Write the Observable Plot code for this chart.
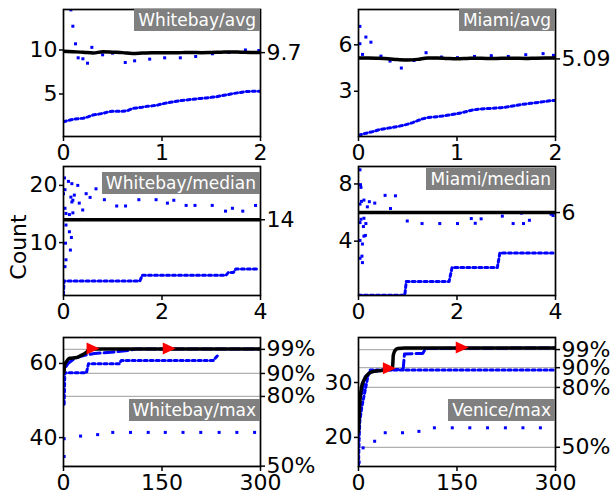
<!DOCTYPE html>
<html>
<head>
<meta charset="utf-8">
<script src="https://cdn.jsdelivr.net/npm/d3@7"></script>
<script src="https://cdn.jsdelivr.net/npm/@observablehq/plot@0.6"></script>
<style>
  html, body { margin: 0; padding: 0; background: #fff; }
  #chart { position: relative; width: 613px; height: 492px; overflow: hidden; font-family: "DejaVu Sans", sans-serif; background: #fff; }
  #chart svg { position: absolute; overflow: visible; }
  .tag { position: absolute; background: #808080; color: #fff; font-size: 17px; line-height: 22px; padding: 0 4px; white-space: nowrap; font-family: "DejaVu Sans", sans-serif; }
  .ylab { position: absolute; font-size: 22px; white-space: nowrap; transform: translate(-50%, -50%) rotate(-90deg); font-family: "DejaVu Sans", sans-serif; }
</style>
</head>
<body>
<div id="chart"></div>
<script>
// ---------- data ----------
const x41 = [0,0.05,0.1,0.15,0.2,0.25,0.3,0.35,0.4,0.45,0.5,0.55,0.6,0.65,0.7,0.75,0.8,0.85,0.9,0.95,1,1.05,1.1,1.15,1.2,1.25,1.3,1.35,1.4,1.45,1.5,1.55,1.6,1.65,1.7,1.75,1.8,1.85,1.9,1.95,2];
const x21 = [0,0.1,0.2,0.3,0.4,0.5,0.6,0.7,0.8,0.9,1,1.1,1.2,1.3,1.4,1.5,1.6,1.7,1.8,1.9,2];

// Whitebay/avg
const wbAvgLow = [1.85,2.0,2.12,2.2,2.25,2.4,2.62,2.7,2.8,2.95,3.05,3.05,3.05,3.1,3.35,3.42,3.5,3.6,3.65,3.72,3.88,3.98,4.08,4.18,4.27,4.32,4.38,4.45,4.5,4.55,4.62,4.68,4.8,4.9,5.0,5.1,5.18,5.28,5.3,5.32,5.32];
const wbAvgMean = [9.85,9.8,9.75,9.65,9.8,9.75,9.7,9.6,9.65,9.7,9.7,9.68,9.7,9.72,9.7,9.72,9.75,9.78,9.75,9.72,9.72];
const wbAvgPtX = [0.075,0.095,0.122,0.149,0.197,0.244,0.288,0.397,0.498,0.627,0.722,0.875,1.027,1.186,1.342,1.512,1.678,1.847,1.983];
const wbAvgPtY = [14.56,12.7,10.7,9.11,9.0,8.5,10.3,9.45,9.64,8.58,8.77,8.96,9.11,9.11,9.26,9.57,9.72,10.0,9.94];
const wbAvgFinal = 9.7;

// Miami/avg
const miAvgLow = [0.15,0.25,0.33,0.4,0.5,0.57,0.62,0.67,0.73,0.79,0.88,0.98,1.1,1.22,1.3,1.33,1.36,1.4,1.45,1.5,1.55,1.62,1.7,1.78,1.83,1.86,1.88,1.9,1.92,1.94,1.98,2.03,2.08,2.14,2.18,2.22,2.26,2.3,2.35,2.39,2.41];
const miAvgMean = [5.15,5.15,5.13,5.1,5.05,5.02,5.06,5.15,5.15,5.12,5.1,5.12,5.14,5.12,5.12,5.14,5.13,5.12,5.14,5.15,5.14];
const miAvgPtX = [0.014,0.014,0.041,0.075,0.126,0.228,0.32,0.435,0.564,0.686,0.842,1.005,1.178,1.348,1.521,1.698,1.874,1.979];
const miAvgPtY = [7.19,6.07,5.38,6.5,6.17,5.27,4.95,4.5,4.99,5.49,5.21,5.17,5.25,5.3,5.25,5.36,5.43,5.32];
const miAvgFinal = 5.09;

// Whitebay/median
const wbMedLowX = [0,0.01,1.55,1.6,3.3,3.35,3.45,3.5,3.93];
const wbMedLowY = [0.9,3.3,3.3,4.3,4.3,4.8,4.8,5.4,5.4];
const wbMedX = [0,4];
const wbMed = [14,14];
const wbMedPtX = [0.02,0.1,0.17,0.29,0.03,0.0,0.22,0.15,0.19,0.17,0.32,0.03,0.39,0.05,0.12,0.19,0.16,0.37,0.46,0.54,0.66,0.83,1.08,1.26,1.53,1.88,2.11,2.24,2.49,2.67,3.02,3.29,3.43,3.64,3.9,0.05,0.12,0.16,0.04,0.14,0.05,0.03];
const wbMedPtY = [21.3,20.7,20.3,20.0,19.25,18.55,18.3,17.95,17.4,17.1,16.9,16.0,15.7,15.1,14.9,15.2,14.05,14.05,18.55,17.9,19.4,17.5,16.4,16.4,17.5,17.5,16.9,17.4,16.5,16.5,16.5,15.5,16.0,15.5,16.5,13.07,11.9,10.9,9.9,8.7,7.0,5.8];
const wbMedFinal = 14;

// Miami/median
const miMedLowX = [0,0.94,0.97,1.84,1.9,2.82,2.87,3.95];
const miMedLowY = [0.22,0.22,1.18,1.18,2.16,2.16,3.18,3.18];
const miMedX = [0,4];
const miMed = [6,6];
const miMedPtX = [0.03,0.04,0.05,0.03,0.06,0.11,0.18,0.22,0.33,0.54,0.75,0.65,0.05,0.11,0.15,0.03,0.1,0.03,0.11,0.14,0.08,0.03,0.07,0.08,0.99,1.29,1.65,2.01,2.29,2.37,2.33,2.47,2.49,2.92,3.14,3.31,3.35,3.47,3.91,3.95];
const miMedPtY = [8.99,7.95,7.76,6.59,6.78,6.87,6.4,6.76,6.66,7.2,7.17,6.28,5.53,5.6,5.23,5.3,5.02,4.05,4.35,4.4,3.8,2.8,2.95,2.5,5.41,5.23,5.23,5.23,5.58,5.25,6.0,6.0,5.56,5.75,5.23,5.96,5.23,5.46,5.89,5.79];
const miMedFinal = 6;

// Whitebay/max
const wbMaxBlackX = [0,1,1.5,4.5,9,20,27,35,39,45,300];
const wbMaxBlackY = [57.5,58.1,59.5,60.5,61.4,61.6,62.2,63.0,63.8,63.9,63.9];
const wbMaxDashX = [4,7,17,32,47,72,98,110,300];
const wbMaxDashY = [59.2,60,61.4,62.2,62.7,63,63.5,63.9,63.9];
const wbMaxDotX = [1,1.5,2,35,38,85,88,228,236];
const wbMaxDotY = [49,53,57.5,57.5,59.9,59.9,60.8,60.8,62.4];
const wbMaxSparseX = [1,1,26,52,75,102,129,155,182,209,237,264,291];
const wbMaxSparseY = [34.9,39.7,40.4,40.8,41.4,41.4,41.4,41.4,41.4,41.4,41.4,41.4,41.4];
const wbMaxTriX = [45,161];
const wbMaxTriY = [64,64];
const wbPctVal = [63.8,57.3,51.1,32.3];
const pctLab = ["99%","90%","80%","50%"];

// Venice/max
const vnBlackX = [0,1,2.5,4.5,9.5,19.6,34.7,50,52,53,56,60,70,300];
const vnBlackY = [21,24,27,29.1,30.7,31.9,32.2,32.5,33,35,35.9,36.2,36.3,36.3];
const vnDashX = [5,10,20,40,68,70,98,102,300];
const vnDashY = [28,31,32.0,32.3,32.4,35.2,35.3,36.2,36.3];
const vnDotX = [0,1,2,5,9.5,14.6,18,300];
const vnDotY = [15,20,23,25.5,28.2,31.3,32.3,32.3];
const vnSparseX = [1,7,24.6,40.7,67,92,115.6,142.8,169.5,196.5,223.7,250.4,277];
const vnSparseY = [15.5,18.1,19.3,20.85,20.85,21.1,21.75,21.75,21.75,21.75,21.75,21.75,21.75];
const vnTriX = [47,158];
const vnTriY = [32.6,36.4];
const vnPctVal = [36.0,32.7,29.1,18.2];

// ---------- helpers ----------
const zip = (xs, ys) => xs.map((x, i) => ({x, y: ys[i]}));
const BLUE = "#0000ff";
const dotted = (xs, ys) => Plot.line(zip(xs, ys), {x: "x", y: "y", stroke: BLUE, strokeWidth: 3, strokeDasharray: "3,3", clip: true});
const dashed = (xs, ys) => Plot.line(zip(xs, ys), {x: "x", y: "y", stroke: BLUE, strokeWidth: 3, strokeDasharray: "10,4", clip: true});
const blackLine = (xs, ys, curve) => Plot.line(zip(xs, ys), {x: "x", y: "y", stroke: "black", strokeWidth: 3.5, curve: curve || "linear", clip: true});
const pts = (xs, ys) => Plot.dot(zip(xs, ys), {x: "x", y: "y", symbol: "square", r: 1.7, fill: BLUE, clip: true});
const rightTri = { draw(ctx) { ctx.moveTo(-6.5, -6); ctx.lineTo(6.5, 0); ctx.lineTo(-6.5, 6); ctx.closePath(); } };
const tris = (xs, ys) => Plot.dot(zip(xs, ys), {x: "x", y: "y", symbol: rightTri, fill: "red", r: 5});

const chart = document.getElementById("chart");
const ML = 70, MR = 80, MT = 14, MB = 36;

function panel(c) {
  const rmap = new Map(c.rt.map((v, i) => [v, c.rl[i]]));
  const svg = Plot.plot({
    width: c.fw + ML + MR, height: c.fh + MT + MB,
    marginLeft: ML, marginRight: MR, marginTop: MT, marginBottom: MB,
    x: {domain: c.xd}, y: {domain: c.yd},
    style: {fontFamily: "DejaVu Sans", fontSize: "22px", color: "black", background: "transparent", overflow: "visible"},
    marks: [
      ...c.marks,
      Plot.frame({stroke: "black", strokeWidth: 1.7}),
      Plot.axisX({ticks: c.xt, tickSize: 5, tickPadding: 3, fontSize: 22, label: null, tickFormat: d => String(d), strokeWidth: 1.5}),
      Plot.axisY({ticks: c.yt, tickSize: 4, tickPadding: 2, fontSize: 22, label: null, tickFormat: d => String(d), strokeWidth: 1.5}),
      Plot.axisY({anchor: "right", ticks: c.rt, tickSize: 4, tickPadding: 2, fontSize: 22, label: null, tickFormat: d => rmap.get(d), strokeWidth: 1.5})
    ]
  });
  svg.style.left = (c.left - ML) + "px";
  svg.style.top = (c.top - MT) + "px";
  chart.appendChild(svg);
  const tag = document.createElement("div");
  tag.className = "tag";
  tag.textContent = c.title;
  tag.style.top = c.tagTop + "px";
  tag.style.right = (613 - c.left - c.fw) + "px";
  chart.appendChild(tag);
}

const L1 = 63, L2 = 358, FW = 197;
const T1 = 9, T2 = 166, T3 = 337;

panel({
  left: L1, top: T1, fw: FW, fh: 127, xd: [0, 2], yd: [0.17, 14.6], xt: [0, 1, 2], yt: [5, 10],
  rt: [wbAvgFinal], rl: ["9.7"], title: "Whitebay/avg", tagTop: 9,
  marks: [
    Plot.ruleY([wbAvgFinal], {stroke: "#b0b0b0", strokeWidth: 1.2}),
    dotted(x41, wbAvgLow),
    pts(wbAvgPtX, wbAvgPtY),
    blackLine(x21, wbAvgMean, "monotone-x")
  ]
});
panel({
  left: L2, top: T1, fw: FW, fh: 127, xd: [0, 2], yd: [0.08, 8.28], xt: [0, 1, 2], yt: [3, 6],
  rt: [miAvgFinal], rl: ["5.09"], title: "Miami/avg", tagTop: 9,
  marks: [
    Plot.ruleY([miAvgFinal], {stroke: "#b0b0b0", strokeWidth: 1.2}),
    dotted(x41, miAvgLow),
    pts(miAvgPtX, miAvgPtY),
    blackLine(x21, miAvgMean, "monotone-x")
  ]
});
panel({
  left: L1, top: T2, fw: FW, fh: 129, xd: [0, 4], yd: [0.76, 23.3], xt: [0, 2, 4], yt: [10, 20],
  rt: [wbMedFinal], rl: ["14"], title: "Whitebay/median", tagTop: 172,
  marks: [
    dotted(wbMedLowX, wbMedLowY),
    pts(wbMedPtX, wbMedPtY),
    blackLine(wbMedX, wbMed)
  ]
});
panel({
  left: L2, top: T2, fw: FW, fh: 129, xd: [0, 4], yd: [0.2, 9.22], xt: [0, 2, 4], yt: [4, 8],
  rt: [miMedFinal], rl: ["6"], title: "Miami/median", tagTop: 168,
  marks: [
    dotted(miMedLowX, miMedLowY),
    pts(miMedPtX, miMedPtY),
    blackLine(miMedX, miMed)
  ]
});
panel({
  left: L1, top: T3, fw: FW, fh: 129, xd: [0, 300], yd: [32.2, 67], xt: [0, 150, 300], yt: [40, 60],
  rt: wbPctVal, rl: pctLab, title: "Whitebay/max", tagTop: 399,
  marks: [
    Plot.ruleY(wbPctVal, {stroke: "#b0b0b0", strokeWidth: 1.2}),
    pts(wbMaxSparseX, wbMaxSparseY),
    dotted(wbMaxDotX, wbMaxDotY),
    dashed(wbMaxDashX, wbMaxDashY),
    blackLine(wbMaxBlackX, wbMaxBlackY, "monotone-x"),
    tris(wbMaxTriX, wbMaxTriY)
  ]
});
panel({
  left: L2, top: T3, fw: FW, fh: 129, xd: [0, 300], yd: [14.7, 38.2], xt: [0, 150, 300], yt: [20, 30],
  rt: vnPctVal, rl: pctLab, title: "Venice/max", tagTop: 399,
  marks: [
    Plot.ruleY(vnPctVal, {stroke: "#b0b0b0", strokeWidth: 1.2}),
    pts(vnSparseX, vnSparseY),
    dotted(vnDotX, vnDotY),
    dashed(vnDashX, vnDashY),
    blackLine(vnBlackX, vnBlackY, "monotone-x"),
    tris(vnTriX, vnTriY)
  ]
});

const yl = document.createElement("div");
yl.className = "ylab";
yl.textContent = "Count";
yl.style.left = "17.5px";
yl.style.top = "247px";
chart.appendChild(yl);
</script>
</body>
</html>
